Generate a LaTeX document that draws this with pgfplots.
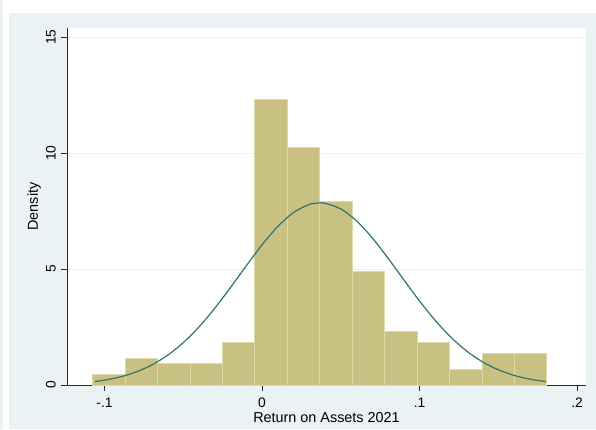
\documentclass[border=0pt]{standalone}
\usepackage{fontspec}
\setmainfont{Liberation Sans}
\usepackage{pgfplots}
\pgfplotsset{compat=1.18}
\definecolor{outerbg}{RGB}{234,242,243}
\definecolor{barfill}{RGB}{201,193,129}
\definecolor{baredge}{RGB}{222,217,168}
\definecolor{curvecol}{RGB}{44,118,112}
\definecolor{axcol}{RGB}{40,40,40}
\begin{document}
\begin{tikzpicture}[x=1pt,y=1pt]
\useasboundingbox (0,0) rectangle (596,429);
\fill[white] (0,0) rectangle (596,429);
\fill[outerbg] (0,0) rectangle (3,429);
\fill[outerbg] (9,0) rectangle (596,416);
\fill[white] (67,44) rectangle (586,401);
\begin{axis}[
  at={(67pt,44pt)}, anchor=south west,
  scale only axis, width=519pt, height=357pt,
  xmin=-0.1238, xmax=0.2057, ymin=0, ymax=15.39,
  axis x line*=bottom, axis y line*=left,
  axis line style={axcol, line width=0.7pt},
  tick style={axcol, line width=0.7pt},
  tick align=outside, major tick length=6pt,
  xtick={-0.1,0,0.1,0.2}, xticklabels={-.1,0,.1,.2},
  ytick={0,5,10,15}, yticklabels={0,5,10,15},
  ymajorgrids, major grid style={outerbg, line width=1pt},
  every tick label/.append style={font=\fontsize{13.8}{15}\selectfont, inner sep=0pt},
  xticklabel style={anchor=north, yshift=-7pt},
  yticklabel style={rotate=90, anchor=south, yshift=5pt},
  xlabel={Return on Assets 2021},
  ylabel={Density},
  label style={font=\fontsize{14.4}{16}\selectfont, inner sep=0pt},
  xlabel style={at={(axis description cs:0.5,0)}, anchor=north, yshift=-27pt},
  ylabel style={at={(axis description cs:0,0.5)}, anchor=south, yshift=26pt},
  clip=false,
]
\addplot[ybar interval, fill=barfill, draw=baredge, line width=1pt] coordinates {
(-0.1075,0.46) (-0.0869,1.14) (-0.0663,0.91) (-0.0457,0.91) (-0.0251,1.82)
(-0.0045,12.31) (0.0161,10.22) (0.0367,7.92) (0.0573,4.89) (0.0779,2.29)
(0.0985,1.82) (0.1191,0.68) (0.1397,1.37) (0.1603,1.37) (0.1809,1.37)
};
\addplot[curvecol, line width=1.2pt, smooth, mark=none] coordinates {
(-0.106,0.151) (-0.10,0.209) (-0.09,0.348) (-0.08,0.559) (-0.07,0.861)
(-0.06,1.279) (-0.05,1.824) (-0.04,2.504) (-0.03,3.308) (-0.02,4.204)
(-0.01,5.137) (0.00,6.041) (0.01,6.833) (0.02,7.435) (0.03,7.783)
(0.0368,7.853) (0.04,7.837) (0.05,7.592) (0.06,7.076) (0.07,6.343)
(0.08,5.470) (0.09,4.538) (0.10,3.622) (0.11,2.781) (0.12,2.054)
(0.13,1.459) (0.14,0.997) (0.15,0.656) (0.16,0.415) (0.17,0.252)
(0.18,0.148)
};
\end{axis}
\end{tikzpicture}
\end{document}
